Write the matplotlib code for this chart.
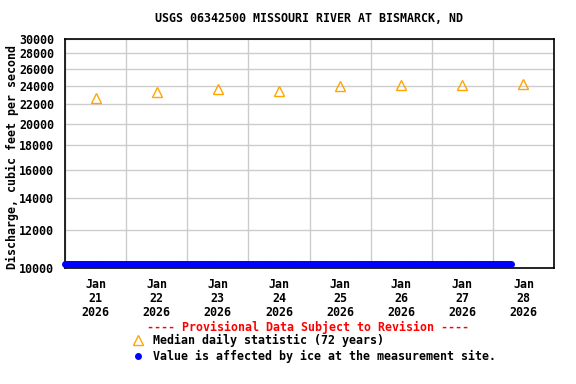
import matplotlib
matplotlib.use("Agg")
import matplotlib.pyplot as plt
import matplotlib.ticker as mticker
import matplotlib.dates as mdates
from matplotlib.lines import Line2D
import pandas as pd

# ---- data ----
median_dates = ["2026-01-21 12:00", "2026-01-22 12:00", "2026-01-23 12:00", "2026-01-24 12:00",
                "2026-01-25 12:00", "2026-01-26 12:00", "2026-01-27 12:00", "2026-01-28 12:00"]
median_values = [22570, 23230, 23550, 23420, 23950, 24050, 24080, 24200]

ice_start = "2026-01-21 00:00"
ice_end = "2026-01-28 07:00"
ice_level = 10190

y_ticks = [10000, 12000, 14000, 16000, 18000, 20000, 22000, 24000, 26000, 28000, 30000]
x_tick_dates = ["2026-01-21 12:00", "2026-01-22 12:00", "2026-01-23 12:00", "2026-01-24 12:00",
                "2026-01-25 12:00", "2026-01-26 12:00", "2026-01-27 12:00", "2026-01-28 12:00"]
x_tick_labels = ["Jan\n21\n2026", "Jan\n22\n2026", "Jan\n23\n2026", "Jan\n24\n2026",
                 "Jan\n25\n2026", "Jan\n26\n2026", "Jan\n27\n2026", "Jan\n28\n2026"]

title = "USGS 06342500 MISSOURI RIVER AT BISMARCK, ND"
ylabel = "Discharge, cubic feet per second"
prov_text = "---- Provisional Data Subject to Revision ----"
median_label = "Median daily statistic (72 years)"
ice_label = "Value is affected by ice at the measurement site."

FONT = "DejaVu Sans Mono"
FS = 8.4

W, H = 576, 384
fig = plt.figure(figsize=(W / 100, H / 100), dpi=100)
L, R, T, B = 65, 554, 39, 268
ax = fig.add_axes([L / W, 1 - B / H, (R - L) / W, (B - T) / H])

ice_times = pd.date_range(ice_start, ice_end, freq="30min")
ice_vals = [ice_level] * len(ice_times)
ax.plot(ice_times, ice_vals, linestyle="none", marker="o", markersize=5,
        color="#0000FF", markeredgewidth=0, clip_on=False, zorder=5)

ax.plot(pd.to_datetime(median_dates), median_values, linestyle="none", marker="^",
        markersize=6.5, markerfacecolor="none", markeredgecolor="#FFA500",
        markeredgewidth=1.0, zorder=4)

ax.set_yscale("log")
ax.set_ylim(10000, 30000)
ax.yaxis.set_major_locator(mticker.FixedLocator(y_ticks))
ax.yaxis.set_major_formatter(mticker.FixedFormatter([str(v) for v in y_ticks]))
ax.yaxis.set_minor_locator(mticker.NullLocator())

ax.set_xlim(pd.Timestamp("2026-01-21 00:00"), pd.Timestamp("2026-01-29 00:00"))
ax.set_xticks(pd.to_datetime(x_tick_dates))
ax.set_xticklabels(x_tick_labels)
ax.xaxis.set_minor_locator(mdates.DayLocator())

ax.grid(True, which="major", axis="y", color="#CCCCCC", linewidth=1)
ax.grid(True, which="minor", axis="x", color="#CCCCCC", linewidth=1)
ax.set_axisbelow(True)

ax.tick_params(axis="both", which="both", length=0)
ax.tick_params(axis="y", pad=8)
ax.tick_params(axis="x", pad=7)
for lbl in ax.get_xticklabels() + ax.get_yticklabels():
    lbl.set_fontfamily(FONT)
    lbl.set_fontweight("bold")
    lbl.set_fontsize(FS)
for lbl in ax.get_xticklabels():
    lbl.set_linespacing(1.1)

for s in ax.spines.values():
    s.set_color("black")
    s.set_linewidth(1.2)

fig.text(309 / W, 1 - 19 / H, title, ha="center", va="center",
         fontfamily=FONT, fontweight="bold", fontsize=FS)
fig.text(12 / W, 1 - 157 / H, ylabel, ha="center", va="center", rotation=90,
         fontfamily=FONT, fontweight="bold", fontsize=FS)

fig.text(308 / W, 1 - 327 / H, prov_text, ha="center", va="center", color="#FF0000",
         fontfamily=FONT, fontweight="bold", fontsize=FS)
fig.add_artist(Line2D([138 / W], [1 - 340 / H], transform=fig.transFigure, linestyle="none",
                      marker="^", markersize=6.5, markerfacecolor="none",
                      markeredgecolor="#FFA500", markeredgewidth=1.0))
fig.text(153 / W, 1 - 340 / H, median_label, ha="left", va="center",
         fontfamily=FONT, fontweight="bold", fontsize=FS)
fig.add_artist(Line2D([138 / W], [1 - 356 / H], transform=fig.transFigure, linestyle="none",
                      marker="o", markersize=5, color="#0000FF", markeredgewidth=0))
fig.text(153 / W, 1 - 356 / H, ice_label, ha="left", va="center",
         fontfamily=FONT, fontweight="bold", fontsize=FS)

fig.savefig("out.png", dpi=100)
